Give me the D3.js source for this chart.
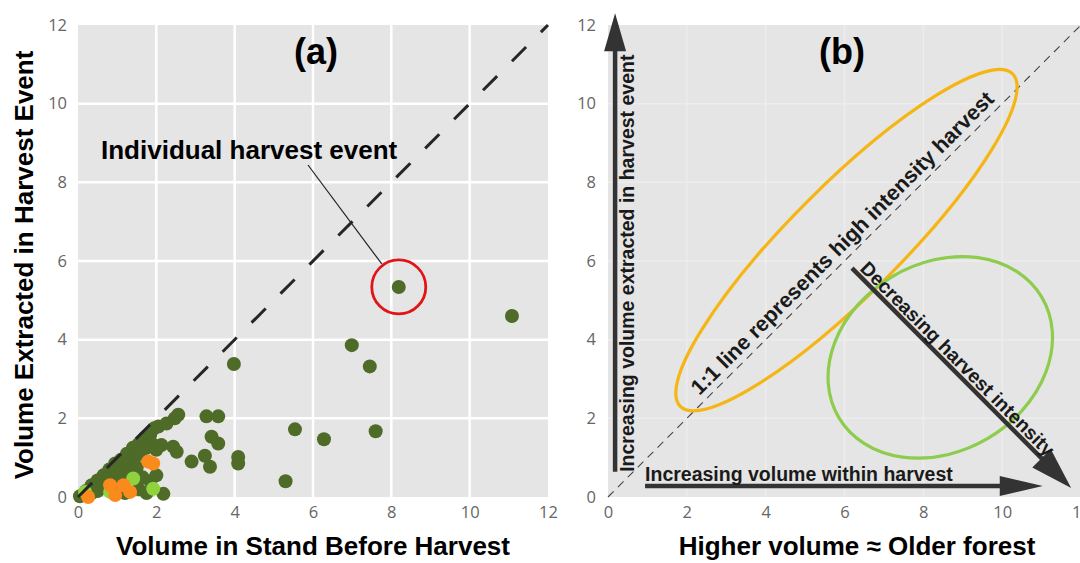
<!DOCTYPE html>
<html>
<head>
<meta charset="utf-8">
<script src="https://cdn.jsdelivr.net/npm/d3@7"></script>
<style>
body { margin: 0; background: #fff; }
text { font-family: "Liberation Sans", Arial, sans-serif; }
</style>
</head>
<body>
<div id="chart"></div>
<script>
// values (volume units, both axes 0..12)
var tickValues = [0, 2, 4, 6, 8, 10, 12];
var gridValues = [2, 4, 6, 8, 10];

// dark green harvest events
var darkPoints = [
  [0.05,0.02],[0.2,0.15],[0.35,0.1],[0.35,0.3],[0.5,0.42],[0.5,0.15],[0.65,0.55],[0.65,0.3],
  [0.8,0.7],[0.8,0.45],[0.95,0.85],[0.95,0.6],[1.0,0.3],[1.1,0.95],[1.1,0.7],[1.15,0.45],
  [1.25,1.1],[1.3,0.85],[1.35,0.6],[1.4,1.25],[1.45,1.0],[1.5,0.75],[1.55,1.35],[1.6,1.1],
  [1.65,0.5],[1.7,1.5],[1.75,1.25],[1.85,1.6],[1.9,1.35],[1.95,1.75],[2.05,1.79],[2.26,1.87],
  [2.47,2.0],[2.56,2.09],[2.0,1.2],[2.13,1.32],[2.43,1.28],[2.52,1.15],[1.55,0.2],[1.75,0.1],
  [2.18,0.08],[1.2,0.1],[0.9,0.15],[1.85,0.4],[2.0,0.55],
  [2.9,0.9],[3.24,1.05],[3.37,0.77],[4.09,1.02],[4.09,0.85],[3.28,2.05],[3.58,2.05],
  [3.41,1.53],[3.58,1.36],[3.98,3.38],[5.54,1.72],[6.28,1.47],[7.6,1.67],[5.3,0.4],
  [6.99,3.86],[7.45,3.32],[8.19,5.34],[11.08,4.6]
];
var limePoints = [[1.41,0.47],[1.92,0.21],[0.82,0.13],[0.18,0.13]];
var orangePoints = [[1.79,0.9],[1.92,0.85],[0.82,0.3],[1.16,0.3],[1.33,0.13],[0.26,0.0],[0.95,0.05]];
var highlightPoint = [8.19, 5.34];

// panel (b) sketch annotations, in axis units
var orangeEllipse = {cx: 6.05, cy: 6.53, rx: 235, ry: 55, angle: -45};
var greenEllipse = {cx: 8.43, cy: 3.55, rx: 118, ry: 94, angle: -30.7};
var upArrow = [[0.18, 0.64], [0.18, 12.3]];
var rightArrow = [[0.94, 0.28], [11.03, 0.28]];
var downArrow = [[6.19, 5.82], [11.75, 0.23]];

var svg = d3.select('#chart').append('svg').attr('width', 1080).attr('height', 563);
svg.append('rect').attr('width', 1080).attr('height', 563).attr('fill', '#fff');

var xA = d3.scaleLinear().domain([0, 12]).range([78, 548]);
var yA = d3.scaleLinear().domain([0, 12]).range([497, 25]);
var xB = d3.scaleLinear().domain([0, 12]).range([608, 1081]);
var yB = d3.scaleLinear().domain([0, 12]).range([497, 25]);

function styleAxis(a) {
  a.select('.domain').remove();
  a.selectAll('text').style('font-family', '"Open Sans", sans-serif')
    .style('font-size', '16.5px').style('fill', '#666');
}

function drawFrame(x, y, gridColor, gridWidth, labelGap) {
  svg.append('rect').attr('x', x(0)).attr('y', y(12))
    .attr('width', Math.min(x(12), 1080) - x(0)).attr('height', y(0) - y(12)).attr('fill', '#e5e5e5');
  var g = svg.append('g');
  g.selectAll('line.v').data(gridValues).enter().append('line')
    .attr('x1', x).attr('x2', x).attr('y1', y(0)).attr('y2', y(12))
    .attr('stroke', gridColor).attr('stroke-width', gridWidth);
  g.selectAll('line.h').data(gridValues).enter().append('line')
    .attr('y1', y).attr('y2', y).attr('x1', x(0)).attr('x2', x(12))
    .attr('stroke', gridColor).attr('stroke-width', gridWidth);
  svg.append('g').attr('transform', 'translate(0,' + y(0) + ')')
    .call(d3.axisBottom(x).tickValues(tickValues).tickSize(0).tickPadding(9))
    .call(styleAxis);
  svg.append('g').attr('transform', 'translate(' + x(0) + ',0)')
    .call(d3.axisLeft(y).tickValues(tickValues).tickSize(0).tickPadding(labelGap))
    .call(styleAxis);
}

function arrow(g, p0, p1, shaft, headLen, headW) {
  var dx = p1[0] - p0[0], dy = p1[1] - p0[1];
  var len = Math.sqrt(dx * dx + dy * dy);
  var ux = dx / len, uy = dy / len, nx = -uy, ny = ux;
  var bx = p1[0] - ux * headLen, by = p1[1] - uy * headLen;
  g.append('line').attr('x1', p0[0]).attr('y1', p0[1]).attr('x2', bx + ux * 2).attr('y2', by + uy * 2)
    .attr('stroke', '#333').attr('stroke-width', shaft);
  g.append('path').attr('fill', '#333')
    .attr('d', 'M' + p1 + 'L' + [bx + nx * headW / 2, by + ny * headW / 2] + 'L' + [bx - nx * headW / 2, by - ny * headW / 2] + 'Z');
}

// ---- panel (a)
drawFrame(xA, yA, '#fff', 2.5, 11);
var pa = svg.append('g');
pa.selectAll('circle.dark').data(darkPoints).enter().append('circle').attr('class', 'dark')
  .attr('cx', function(d) { return xA(d[0]); }).attr('cy', function(d) { return yA(d[1]); })
  .attr('r', 7).attr('fill', '#4e6b28');
pa.selectAll('circle.lime').data(limePoints).enter().append('circle').attr('class', 'lime')
  .attr('cx', function(d) { return xA(d[0]); }).attr('cy', function(d) { return yA(d[1]); })
  .attr('r', 7).attr('fill', '#8fd43e');
pa.selectAll('circle.orange').data(orangePoints).enter().append('circle').attr('class', 'orange')
  .attr('cx', function(d) { return xA(d[0]); }).attr('cy', function(d) { return yA(d[1]); })
  .attr('r', 7).attr('fill', '#fb8a1c');
pa.append('line').attr('x1', xA(0)).attr('y1', yA(0)).attr('x2', xA(12)).attr('y2', yA(12))
  .attr('stroke', '#262626').attr('stroke-width', 3).attr('stroke-dasharray', '20,21');

pa.append('circle').attr('cx', xA(highlightPoint[0])).attr('cy', yA(highlightPoint[1]))
  .attr('r', 27).attr('fill', 'none').attr('stroke', '#e01515').attr('stroke-width', 2.8);
pa.append('line').attr('x1', 308).attr('y1', 165)
  .attr('x2', xA(highlightPoint[0]) - 17).attr('y2', yA(highlightPoint[1]) - 23)
  .attr('stroke', '#222').attr('stroke-width', 1.2);
pa.append('text').attr('x', 101).attr('y', 159).attr('font-size', 26).attr('font-weight', 'bold')
  .text('Individual harvest event');
pa.append('text').attr('x', 316).attr('y', 64).attr('text-anchor', 'middle')
  .attr('font-size', 36).attr('font-weight', 'bold').text('(a)');

svg.append('text').attr('x', 313).attr('y', 555).attr('text-anchor', 'middle')
  .attr('font-size', 26).attr('font-weight', 'bold').text('Volume in Stand Before Harvest');
svg.append('text').attr('transform', 'translate(33,265) rotate(-90)').attr('text-anchor', 'middle')
  .attr('font-size', 26).attr('font-weight', 'bold').text('Volume Extracted in Harvest Event');

// ---- panel (b)
drawFrame(xB, yB, '#ededed', 1.5, 12);
var pb = svg.append('g');
pb.append('line').attr('x1', xB(0)).attr('y1', yB(0)).attr('x2', xB(12)).attr('y2', yB(12))
  .attr('stroke', '#444').attr('stroke-width', 1.1).attr('stroke-dasharray', '8,6');

[orangeEllipse, greenEllipse].forEach(function(e, i) {
  pb.append('ellipse')
    .attr('transform', 'translate(' + [xB(e.cx), yB(e.cy)] + ') rotate(' + e.angle + ')')
    .attr('rx', e.rx).attr('ry', e.ry).attr('fill', 'none')
    .attr('stroke', i === 0 ? '#f5b514' : '#8dcc4d').attr('stroke-width', 3.2);
});

function px(p) { return [xB(p[0]), yB(p[1])]; }
arrow(pb, px(upArrow[0]), px(upArrow[1]), 4.5, 38, 22);
arrow(pb, px(rightArrow[0]), px(rightArrow[1]), 4.5, 43, 20);
arrow(pb, px(downArrow[0]), px(downArrow[1]), 4.5, 42, 26);

var up0 = px(upArrow[0]);
pb.append('text').attr('transform', 'translate(' + [up0[0] + 19, up0[1]] + ') rotate(-90)')
  .attr('font-size', 19.5).attr('font-weight', 'bold').attr('fill', '#1a1a1a')
  .text('Increasing volume extracted in harvest event');
var r0 = px(rightArrow[0]);
pb.append('text').attr('x', r0[0]).attr('y', r0[1] - 5)
  .attr('font-size', 19.5).attr('font-weight', 'bold').attr('fill', '#1a1a1a')
  .text('Increasing volume within harvest');
var d0 = px(downArrow[0]), d1 = px(downArrow[1]);
var dAng = Math.atan2(d1[1] - d0[1], d1[0] - d0[0]) * 180 / Math.PI;
pb.append('text').attr('transform', 'translate(' + d0 + ') rotate(' + dAng + ')')
  .attr('x', 6).attr('y', -4)
  .attr('font-size', 19.5).attr('font-weight', 'bold').attr('fill', '#1a1a1a')
  .text('Decreasing harvest intensity');
var foot = px([6.2, 6.2]);
pb.append('text').attr('transform', 'translate(' + foot + ') rotate(-45)')
  .attr('y', -7).attr('text-anchor', 'middle')
  .attr('font-size', 21.5).attr('font-weight', 'bold').attr('fill', '#1a1a1a')
  .text('1:1 line represents high intensity harvest');
pb.append('text').attr('x', 842).attr('y', 64).attr('text-anchor', 'middle')
  .attr('font-size', 36).attr('font-weight', 'bold').text('(b)');

svg.append('text').attr('x', 857).attr('y', 555).attr('text-anchor', 'middle')
  .attr('font-size', 26).attr('font-weight', 'bold').text('Higher volume \u2248 Older forest');
</script>
</body>
</html>
